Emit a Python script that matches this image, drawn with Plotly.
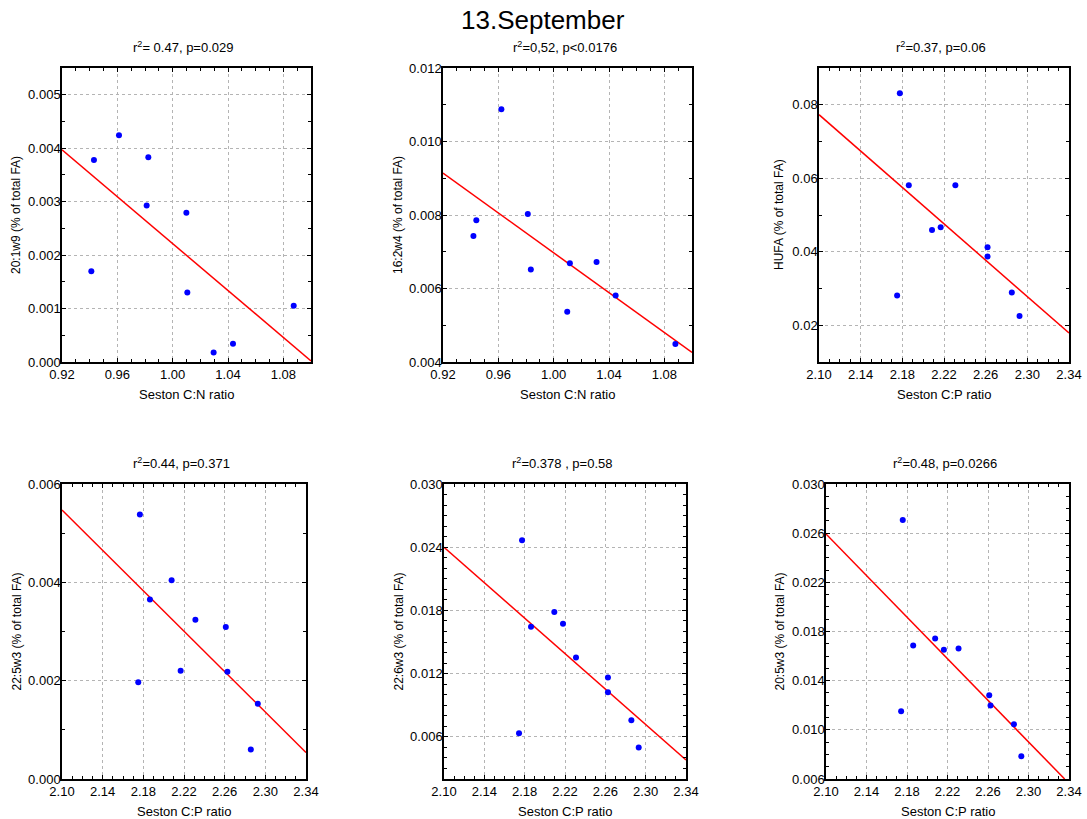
import plotly.graph_objects as go

# ---------------- data ----------------
title_text = "13.September"

p1_x = [0.9412, 0.9431, 0.9612, 0.9812, 0.9824, 1.0099, 1.0106, 1.0296, 1.0436, 1.0875]
p1_y = [0.00170, 0.00378, 0.00424, 0.00293, 0.00383, 0.00279, 0.00130, 0.00018, 0.00034, 0.00105]
p1_fit_x = [0.92, 1.10]
p1_fit_y = [0.00397, 0.00002]

p2_x = [0.9420, 0.9441, 0.9622, 0.9813, 0.9835, 1.0098, 1.0117, 1.0310, 1.0448, 1.0880]
p2_y = [0.00743, 0.00786, 0.01088, 0.00803, 0.00652, 0.00537, 0.00669, 0.00672, 0.00581, 0.00449]
p2_fit_x = [0.92, 1.10]
p2_fit_y = [0.00914, 0.00426]

p3_x = [2.1750, 2.1776, 2.1862, 2.2085, 2.2168, 2.2309, 2.2618, 2.2618, 2.2851, 2.2925]
p3_y = [0.0281, 0.0831, 0.0581, 0.0459, 0.0467, 0.0581, 0.0412, 0.0387, 0.0289, 0.0225]
p3_fit_x = [2.10, 2.34]
p3_fit_y = [0.0773, 0.0179]

p4_x = [2.1750, 2.1766, 2.1865, 2.2078, 2.2167, 2.2312, 2.2611, 2.2627, 2.2857, 2.2926]
p4_y = [0.00197, 0.00538, 0.00365, 0.00404, 0.00220, 0.00324, 0.00309, 0.00218, 0.00060, 0.00153]
p4_fit_x = [2.10, 2.34]
p4_fit_y = [0.00547, 0.00054]

p5_x = [2.1744, 2.1774, 2.1863, 2.2094, 2.2180, 2.2309, 2.2626, 2.2626, 2.2858, 2.2931]
p5_y = [0.00635, 0.02465, 0.01645, 0.01784, 0.01673, 0.01354, 0.01164, 0.01024, 0.00758, 0.00499]
p5_fit_x = [2.10, 2.34]
p5_fit_y = [0.0240, 0.0038]

p6_x = [2.1742, 2.1758, 2.1861, 2.2078, 2.2164, 2.2309, 2.2612, 2.2625, 2.2856, 2.2929]
p6_y = [0.01151, 0.02707, 0.01686, 0.01743, 0.01651, 0.01662, 0.01281, 0.01197, 0.01045, 0.00785]
p6_fit_x = [2.10, 2.3357]
p6_fit_y = [0.02593, 0.00600]

panel_titles = ["r<sup>2</sup>= 0.47, p=0.029", "r<sup>2</sup>=0,52, p<0.0176", "r<sup>2</sup>=0.37, p=0.06",
                "r<sup>2</sup>=0.44, p=0.371", "r<sup>2</sup>=0.378 , p=0.58", "r<sup>2</sup>=0.48, p=0.0266"]
x_titles = ["Seston C:N ratio", "Seston C:N ratio", "Seston C:P ratio",
            "Seston C:P ratio", "Seston C:P ratio", "Seston C:P ratio"]
y_titles = ["20:1w9 (% of total FA)", "16:2w4 (% of total FA)", "HUFA (% of total FA)",
            "22:5w3 (% of total FA)", "22:6w3 (% of total FA)", "20:5w3 (% of total FA)"]

# ---------------- layout geometry ----------------
W, H = 1087, 819
# plot boxes in pixels: (left, right, top, bottom)
boxes = [(62, 311, 68, 362), (443, 692, 68, 362), (819, 1069, 68, 362),
         (62, 306, 484, 779), (444, 686, 484, 779), (826, 1069, 484, 779)]
ytitle_x = [16, 398, 779, 16, 398, 779]

# axis settings: x range, x tick0, x dtick, x minor, y range, y tick0, y dtick, y minor, y fmt
ax_cfg = [
    ([0.92, 1.10], 0.92, 0.04, 0.01, [0.0, 0.0055], 0.0, 0.001, 0.0005, ".3f"),
    ([0.92, 1.10], 0.92, 0.04, 0.01, [0.004, 0.012], 0.004, 0.002, 0.001, ".3f"),
    ([2.10, 2.34], 2.10, 0.04, 0.01, [0.01, 0.09], 0.02, 0.02, 0.01, ".2f"),
    ([2.10, 2.34], 2.10, 0.04, 0.01, [0.0, 0.006], 0.0, 0.002, 0.001, ".3f"),
    ([2.10, 2.34], 2.10, 0.04, 0.01, [0.002, 0.030], 0.006, 0.006, 0.001, ".3f"),
    ([2.10, 2.34], 2.10, 0.04, 0.01, [0.006, 0.030], 0.006, 0.004, 0.001, ".3f"),
]

xs = [p1_x, p2_x, p3_x, p4_x, p5_x, p6_x]
ys = [p1_y, p2_y, p3_y, p4_y, p5_y, p6_y]
fxs = [p1_fit_x, p2_fit_x, p3_fit_x, p4_fit_x, p5_fit_x, p6_fit_x]
fys = [p1_fit_y, p2_fit_y, p3_fit_y, p4_fit_y, p5_fit_y, p6_fit_y]

FONT = "Liberation Sans, Arial, sans-serif"

fig = go.Figure()
annotations = []
layout_axes = {}

for i in range(6):
    n = "" if i == 0 else str(i + 1)
    xa, ya = "x" + n, "y" + n
    l, r, t, b = boxes[i]
    xr, xt0, xdt, xmin, yr, yt0, ydt, ymin, yfmt = ax_cfg[i]

    fig.add_trace(go.Scatter(x=fxs[i], y=fys[i], mode="lines",
                             line=dict(color="#ff0000", width=1.5),
                             xaxis=xa, yaxis=ya, showlegend=False, hoverinfo="skip"))
    fig.add_trace(go.Scatter(x=xs[i], y=ys[i], mode="markers",
                             marker=dict(color="#0000ff", size=6),
                             xaxis=xa, yaxis=ya, showlegend=False))

    common = dict(showline=True, linecolor="black", linewidth=1.5, mirror="allticks",
                  ticks="inside", ticklen=4, tickwidth=1, tickcolor="black",
                  showgrid=True, gridcolor="#b4b4b4", griddash="dot", gridwidth=1,
                  zeroline=False, tickfont=dict(family=FONT, size=13, color="black"),
                  fixedrange=True, automargin=False)
    layout_axes["xaxis" + n] = dict(common, domain=[l / W, r / W], anchor=ya, range=xr,
                                    tick0=xt0, dtick=xdt, tickformat=".2f",
                                    minor=dict(ticks="inside", ticklen=3, tick0=xt0, dtick=xmin,
                                               tickcolor="black", showgrid=False))
    layout_axes["yaxis" + n] = dict(common, domain=[1 - b / H, 1 - t / H], anchor=xa, range=yr,
                                    tick0=yt0, dtick=ydt, tickformat=yfmt, ticklabelstandoff=-3,
                                    minor=dict(ticks="inside", ticklen=3, tick0=0, dtick=ymin,
                                               tickcolor="black", showgrid=False))

    cx = (l + r) / 2 / W
    # panel title
    annotations.append(dict(text=panel_titles[i], x=cx - 3 / W, y=1 - (t - 21) / H, xref="paper", yref="paper",
                            showarrow=False, xanchor="center", yanchor="middle",
                            font=dict(family=FONT, size=13, color="black")))
    # x title
    annotations.append(dict(text=x_titles[i], x=cx, y=1 - (b + 32) / H, xref="paper", yref="paper",
                            showarrow=False, xanchor="center", yanchor="middle",
                            font=dict(family=FONT, size=13, color="black")))
    # y title
    annotations.append(dict(text=y_titles[i], x=ytitle_x[i] / W, y=1 - ((t + b) / 2) / H,
                            xref="paper", yref="paper", textangle=-90,
                            showarrow=False, xanchor="center", yanchor="middle",
                            font=dict(family=FONT, size=12, color="black")))

annotations.append(dict(text=title_text, x=543 / W, y=1 - 20 / H, xref="paper", yref="paper",
                        showarrow=False, xanchor="center", yanchor="middle",
                        font=dict(family=FONT, size=26, color="black")))

fig.update_layout(width=W, height=H, margin=dict(l=0, r=0, t=0, b=0),
                  paper_bgcolor="white", plot_bgcolor="white",
                  annotations=annotations, **layout_axes)

fig.write_html("out.html", config={"displayModeBar": False},
               post_script="document.body.style.margin='0';document.body.style.padding='0';"
                           "document.body.style.overflow='hidden';")
